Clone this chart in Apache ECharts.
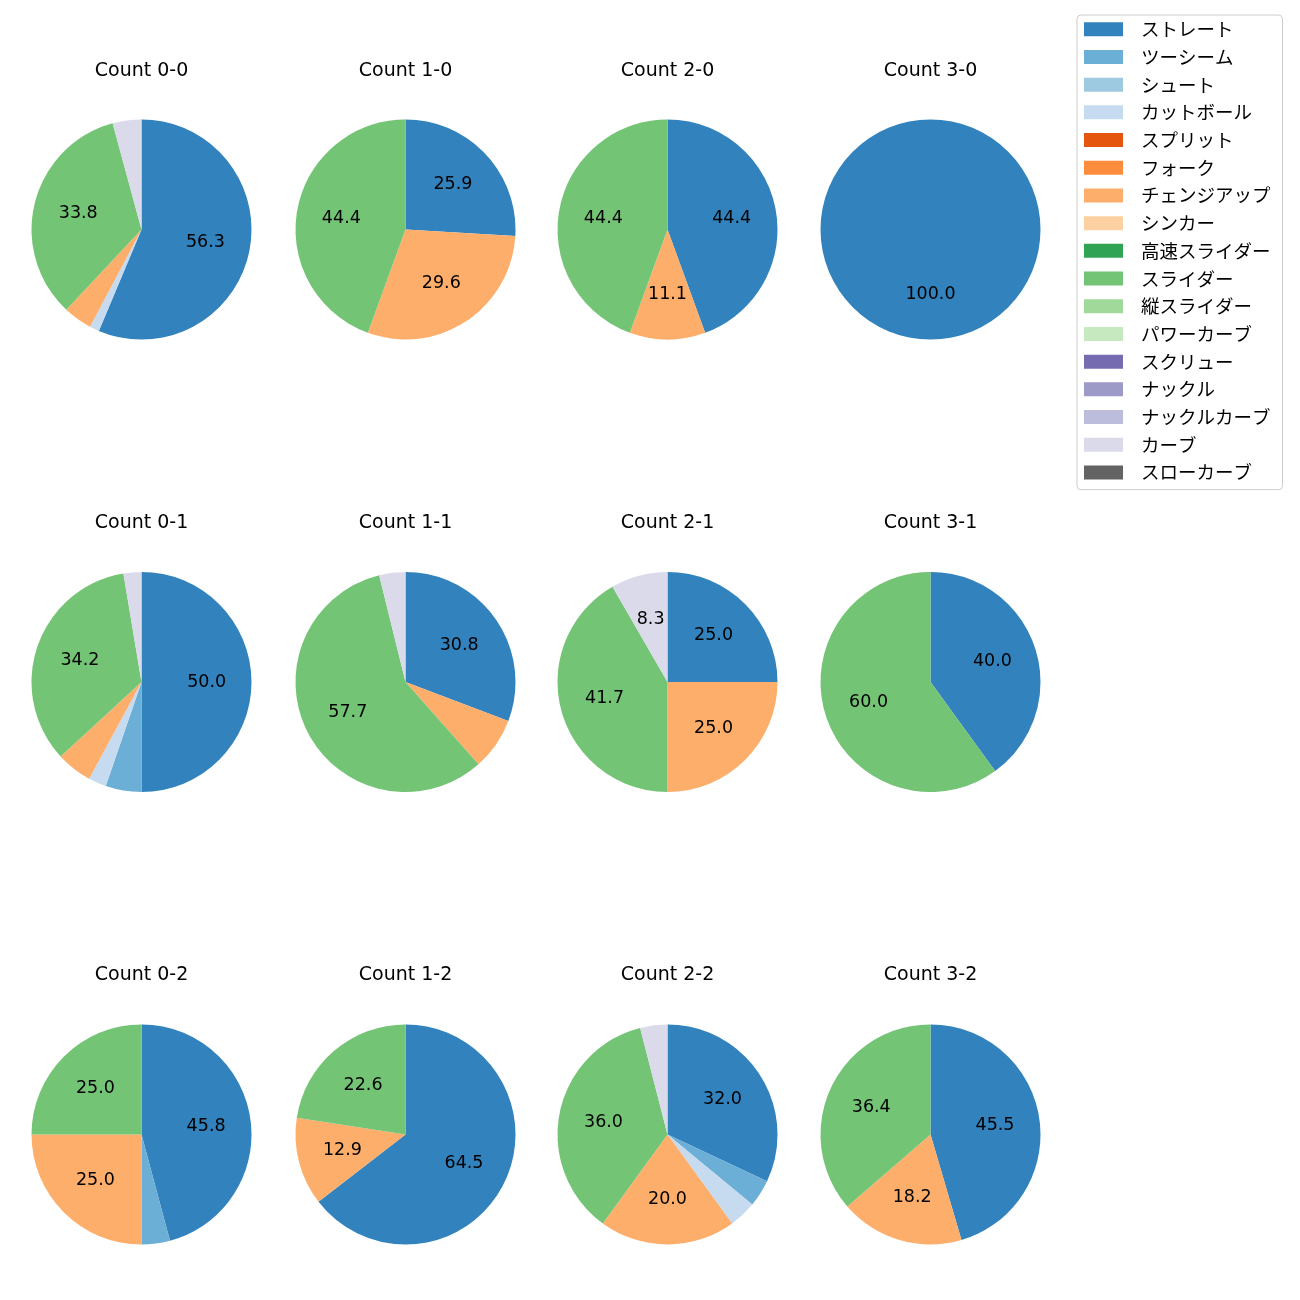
<!DOCTYPE html>
<html>
<head>
<meta charset="utf-8">
<script src="https://cdn.jsdelivr.net/npm/echarts@6/dist/echarts.min.js"></script>
<style>html,body{margin:0;padding:0;background:#fff}#chart{width:1300px;height:1300px}</style>
</head>
<body>
<div id="chart"></div>
<script>
// Pitch type categories (legend order)
var pitchTypes = ['ストレート','ツーシーム','シュート','カットボール','スプリット','フォーク','チェンジアップ','シンカー','高速スライダー','スライダー','縦スライダー','パワーカーブ','スクリュー','ナックル','ナックルカーブ','カーブ','スローカーブ'];
var pitchColors = ['#3182bd','#6baed6','#9ecae1','#c6dbef','#e6550d','#fd8d3c','#fdae6b','#fdd0a2','#31a354','#74c476','#a1d99b','#c7e9c0','#756bb1','#9e9ac8','#bcbddc','#dadaeb','#636363'];

// Pitch counts per ball-strike count (same order as pitchTypes)
var count00 = [40,0,0,1,0,0,3,0,0,24,0,0,0,0,0,3,0];
var count10 = [7,0,0,0,0,0,8,0,0,12,0,0,0,0,0,0,0];
var count20 = [4,0,0,0,0,0,1,0,0,4,0,0,0,0,0,0,0];
var count30 = [1,0,0,0,0,0,0,0,0,0,0,0,0,0,0,0,0];
var count01 = [19,2,0,1,0,0,2,0,0,13,0,0,0,0,0,1,0];
var count11 = [8,0,0,0,0,0,2,0,0,15,0,0,0,0,0,1,0];
var count21 = [3,0,0,0,0,0,3,0,0,5,0,0,0,0,0,1,0];
var count31 = [2,0,0,0,0,0,0,0,0,3,0,0,0,0,0,0,0];
var count02 = [11,1,0,0,0,0,6,0,0,6,0,0,0,0,0,0,0];
var count12 = [20,0,0,0,0,0,4,0,0,7,0,0,0,0,0,0,0];
var count22 = [8,1,0,1,0,0,5,0,0,9,0,0,0,0,0,1,0];
var count32 = [5,0,0,0,0,0,2,0,0,4,0,0,0,0,0,0,0];

var countTitles = ['Count 0-0','Count 1-0','Count 2-0','Count 3-0',
                   'Count 0-1','Count 1-1','Count 2-1','Count 3-1',
                   'Count 0-2','Count 1-2','Count 2-2','Count 3-2'];
var countData = [count00,count10,count20,count30,count01,count11,count21,count31,count02,count12,count22,count32];

var colX = [141.5, 405.5, 667.5, 930.5];
var rowY = [229.5, 682, 1134.5];
var titleY = [71, 523, 975];
var R = 110;
var CJK = '"Noto Sans CJK JP", "Noto Sans", sans-serif';
var LATIN = '"DejaVu Sans", "Noto Sans", sans-serif';

var series = [];
var titles = [];
countData.forEach(function (vals, i) {
  var cx = colX[i % 4], cy = rowY[Math.floor(i / 4)];
  var total = vals.reduce(function (a, b) { return a + b; }, 0);
  var data = pitchTypes.map(function (n, k) {
    return { name: n, value: vals[k], itemStyle: { color: pitchColors[k] } };
  });
  series.push({
    type: 'pie', center: [cx, cy], radius: [0, R], startAngle: 90, clockwise: true,
    label: { show: false }, labelLine: { show: false },
    itemStyle: { borderWidth: 0 }, emphasis: { disabled: true },
    data: data
  });
  // label carrier: transparent pie so 'inside' labels sit at ~0.6R
  series.push({
    type: 'pie', center: [cx, cy], radius: [0, R * 1.13], startAngle: 90, clockwise: true, silent: true,
    itemStyle: { color: 'rgba(0,0,0,0)', borderWidth: 0 }, emphasis: { disabled: true },
    labelLine: { show: false },
    label: {
      show: true, position: 'inside', color: '#000', fontSize: 17.5, fontFamily: LATIN,
      formatter: function (p) {
        var pct = p.value / total * 100;
        return pct >= 8 ? (Math.round(pct * 10) / 10).toFixed(1) : '';
      }
    },
    data: pitchTypes.map(function (n, k) { return { name: n, value: vals[k] }; })
  });
  titles.push({
    text: countTitles[i], left: cx, top: titleY[Math.floor(i / 4)], padding: 0,
    textAlign: 'center', textVerticalAlign: 'middle',
    textStyle: { fontSize: 19, fontWeight: 'normal', color: '#000', fontFamily: LATIN }
  });
});

var chart = echarts.init(document.getElementById('chart'));
chart.setOption({
  animation: false,
  backgroundColor: '#fff',
  title: titles,
  legend: {
    orient: 'vertical', left: 1077, top: 15,
    data: pitchTypes, selectedMode: false,
    itemWidth: 39, itemHeight: 14, itemGap: 9.2,
    icon: 'rect',
    padding: [5, 12, 8, 7],
    borderColor: '#cccccc', borderWidth: 1, borderRadius: 4,
    textStyle: { fontSize: 18.5, color: '#000', fontFamily: CJK, padding: [0, 0, 0, 13] }
  },
  series: series
});
</script>
</body>
</html>
